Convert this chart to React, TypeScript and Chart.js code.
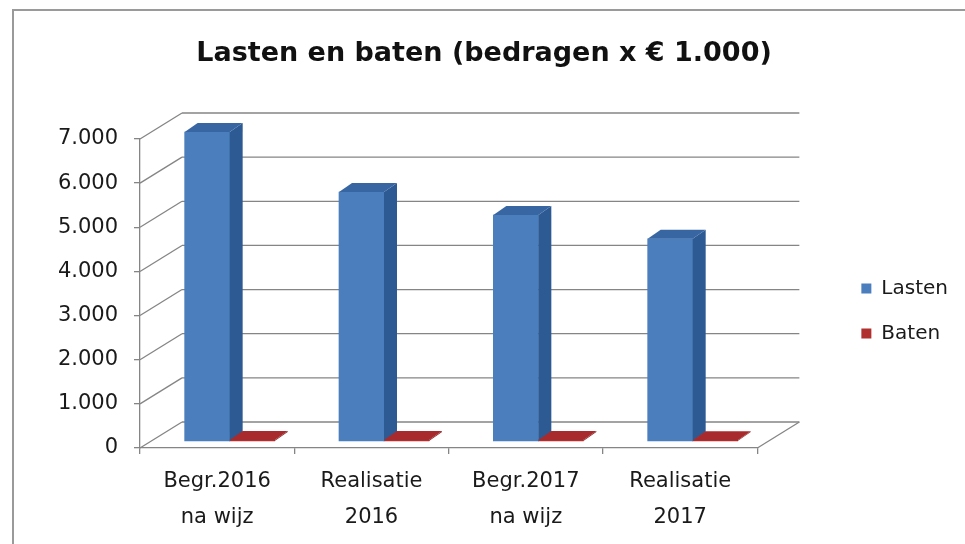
import React, { useEffect, useRef } from "react";
import { Chart, registerables } from "chart.js";

Chart.register(...registerables);

const categories: string[][] = [
  ["Begr.2016", "na wijz"],
  ["Realisatie", "2016"],
  ["Begr.2017", "na wijz"],
  ["Realisatie", "2017"],
];
const lasten: number[] = [7000, 5640, 5120, 4580];
const baten: number[] = [25, 20, 20, 15];
const seriesNames: string[] = ["Lasten", "Baten"];
const titleText = "Lasten en baten (bedragen x € 1.000)";

const FONT = "'DejaVu Sans', sans-serif";
const GRID = "#858585";
const FRONT = ["#4a7ebd", "#b03030"];
const SIDE = ["#2d5a92", "#8c2222"];
const TOP = ["#3866a3", "#a82a2c"];

// 3D look (pixels)
const BAR_DX = 13;
const BAR_DY = 9;
const WALL_DX = 42;
const WALL_DY = 26;
const BAR_SHIFT_PX = 12.5; // bars sit a little behind the front plane
const BAR_DROP_PX = 7;
const BAR_WIDTH = 45;

const fmt = (v: number) => String(v).replace(/\B(?=(\d{3})+(?!\d))/g, ".");

const framePlugin = {
  id: "frame",
  beforeDraw(chart: any) {
    const { ctx, width, height } = chart;
    ctx.save();
    ctx.fillStyle = "#ffffff";
    ctx.fillRect(0, 0, width, height);
    ctx.strokeStyle = "#9a9a9a";
    ctx.lineWidth = 2;
    ctx.beginPath();
    ctx.moveTo(13, height + 5);
    ctx.lineTo(13, 10);
    ctx.lineTo(width + 5, 10);
    ctx.stroke();
    ctx.restore();
  },
};

const threeDPlugin = {
  id: "threeD",
  beforeDatasetsDraw(chart: any) {
    const { ctx, chartArea } = chart;
    const ys = chart.scales.y;
    const { left, right, bottom } = chartArea;
    ctx.save();
    ctx.strokeStyle = GRID;
    ctx.lineWidth = 1.3;
    const line = (x1: number, y1: number, x2: number, y2: number) => {
      ctx.beginPath();
      ctx.moveTo(x1, y1);
      ctx.lineTo(x2, y2);
      ctx.stroke();
    };
    ys.ticks.forEach((t: any) => {
      const py = ys.getPixelForValue(t.value);
      line(left, py, left + WALL_DX, py - WALL_DY);
      line(left + WALL_DX, py - WALL_DY, right + WALL_DX, py - WALL_DY);
    });
    line(right, bottom, right + WALL_DX, bottom - WALL_DY);
    ctx.restore();
  },
  afterDatasetsDraw(chart: any) {
    const { ctx } = chart;
    ctx.save();
    const poly = (pts: number[][], color: string) => {
      ctx.beginPath();
      ctx.moveTo(pts[0][0], pts[0][1]);
      for (let i = 1; i < pts.length; i++) ctx.lineTo(pts[i][0], pts[i][1]);
      ctx.closePath();
      ctx.fillStyle = color;
      ctx.fill();
    };
    chart.data.datasets.forEach((_ds: any, di: number) => {
      const meta = chart.getDatasetMeta(di);
      meta.data.forEach((bar: any) => {
        const { x, y, base, width } = bar.getProps(["x", "y", "base", "width"], true);
        const l = x - width / 2;
        const r = x + width / 2;
        poly(
          [
            [r, y],
            [r + BAR_DX, y - BAR_DY],
            [r + BAR_DX, base - BAR_DY],
            [r, base],
          ],
          SIDE[di]
        );
        poly(
          [
            [l, y],
            [l + BAR_DX, y - BAR_DY],
            [r + BAR_DX, y - BAR_DY],
            [r, y],
          ],
          TOP[di]
        );
      });
    });
    ctx.restore();
  },
};

export default function App() {
  const ref = useRef<HTMLCanvasElement>(null);

  useEffect(() => {
    const canvas = ref.current!;
    const Y_MAX = 7000;
    const plotH = 448 - 139;
    const unitsPerPx = Y_MAX / plotH;
    const drop = BAR_DROP_PX * unitsPerPx;
    const shift = BAR_SHIFT_PX / 154.5;

    const chart = new Chart(canvas, {
      type: "bar",
      data: {
        datasets: [
          {
            label: seriesNames[0],
            data: lasten.map((v, i) => ({ x: i, y: v })),
            backgroundColor: FRONT[0],
            xAxisID: "xb",
            yAxisID: "yb",
            clip: false as any,
          },
          {
            label: seriesNames[1],
            data: baten.map((v, i) => ({ x: i, y: v })),
            backgroundColor: FRONT[1],
            xAxisID: "xb",
            yAxisID: "yb",
            clip: false as any,
          },
        ],
      },
      options: {
        responsive: false,
        animation: false,
        events: [],
        layout: { padding: { left: 10, right: 7, top: 0, bottom: 0 } },
        datasets: {
          bar: { barThickness: BAR_WIDTH },
        },
        scales: {
          x: {
            type: "category",
            labels: categories as any,
            position: "bottom",
            offset: true,
            grid: {
              offset: true,
              drawOnChartArea: false,
              drawTicks: true,
              tickLength: 6,
              color: GRID,
              lineWidth: 1.3,
            },
            border: { display: true, color: GRID, width: 1.3 },
            ticks: {
              color: "#1a1a1a",
              font: { family: FONT, size: 21, lineHeight: 1.7 },
              padding: 10,
              maxRotation: 0,
              autoSkip: false,
            },
            afterFit: (s: any) => {
              s.height = 96;
            },
          },
          xb: {
            type: "linear",
            display: false,
            offset: false,
            min: -0.5 - shift,
            max: 3.5 - shift,
          },
          y: {
            type: "linear",
            position: "left",
            min: 0,
            max: Y_MAX,
            ticks: {
              stepSize: 1000,
              color: "#1a1a1a",
              font: { family: FONT, size: 21 },
              padding: 16,
              callback: (v: any) => fmt(Number(v)),
            },
            grid: {
              drawOnChartArea: false,
              drawTicks: true,
              tickLength: 6,
              color: GRID,
              lineWidth: 1.3,
            },
            border: { display: true, color: GRID, width: 1.3 },
            afterFit: (s: any) => {
              s.width = 130;
            },
          },
          yb: {
            type: "linear",
            position: "right",
            min: -drop,
            max: Y_MAX - drop,
            ticks: { display: false },
            grid: { display: false },
            border: { display: false },
            afterFit: (s: any) => {
              s.width = 79;
            },
          },
        },
        plugins: {
          title: {
            display: true,
            text: titleText,
            color: "#111111",
            font: { family: FONT, size: 27, weight: "bold", lineHeight: 1.2 },
            padding: { top: 37.6, bottom: 69 },
          },
          legend: {
            display: true,
            position: "right",
            align: "center",
            title: {
              display: true,
              text: "",
              font: { size: 10, lineHeight: 1 },
              padding: { top: 34, bottom: 34 },
            },
            labels: {
              boxWidth: 10,
              boxHeight: 10,
              padding: 25,
              color: "#1a1a1a",
              font: { family: FONT, size: 20 },
            },
          },
          tooltip: { enabled: false },
        },
      },
      plugins: [framePlugin, threeDPlugin],
    });
    return () => chart.destroy();
  }, []);

  return (
    <div style={{ position: "fixed", left: 0, top: 0, width: 965, height: 544, background: "#fff" }}>
      <canvas ref={ref} width={965} height={544} style={{ display: "block", width: 965, height: 544 }} />
    </div>
  );
}
